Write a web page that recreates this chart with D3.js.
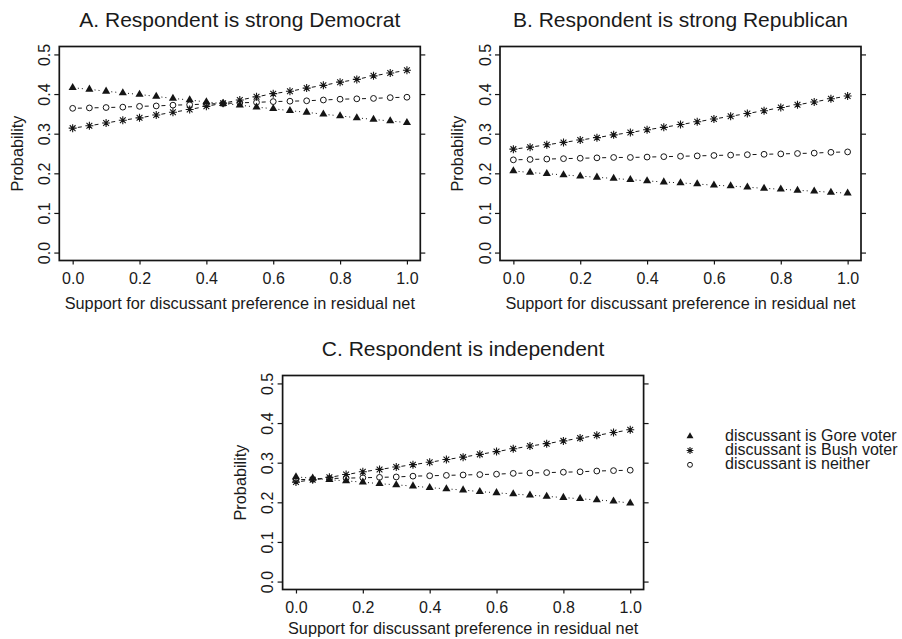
<!DOCTYPE html>
<html>
<head>
<meta charset="utf-8">
<script src="https://cdn.jsdelivr.net/npm/d3@7"></script>
<style>
  html, body { margin: 0; padding: 0; background: #fff; }
  svg { display: block; }
  text { font-family: "Liberation Sans", Arial, Helvetica, sans-serif; fill: #1a1a1a; }
</style>
</head>
<body>
<svg id="chart" width="902" height="639"></svg>
<script>
// Support for the discussant's preference in the residual network
const support = [0, 0.05, 0.1, 0.15, 0.2, 0.25, 0.3, 0.35, 0.4, 0.45, 0.5,
                 0.55, 0.6, 0.65, 0.7, 0.75, 0.8, 0.85, 0.9, 0.95, 1.0];

// A. Respondent is strong Democrat
const demGore    = [0.416, 0.412, 0.407, 0.403, 0.399, 0.394, 0.389, 0.385, 0.380, 0.376, 0.372,
                    0.367, 0.363, 0.358, 0.354, 0.349, 0.345, 0.340, 0.336, 0.332, 0.328];
const demBush    = [0.314, 0.320, 0.327, 0.334, 0.340, 0.347, 0.354, 0.361, 0.369, 0.377, 0.385,
                    0.393, 0.401, 0.407, 0.415, 0.422, 0.430, 0.437, 0.446, 0.453, 0.460];
const demNeither = [0.364, 0.365, 0.366, 0.367, 0.369, 0.370, 0.372, 0.373, 0.375, 0.376, 0.378,
                    0.379, 0.381, 0.382, 0.383, 0.385, 0.387, 0.388, 0.389, 0.391, 0.392];

// B. Respondent is strong Republican
const repGore    = [0.206, 0.202, 0.199, 0.196, 0.193, 0.190, 0.187, 0.184, 0.181, 0.178, 0.176,
                    0.173, 0.170, 0.168, 0.165, 0.162, 0.160, 0.157, 0.155, 0.152, 0.150];
const repBush    = [0.261, 0.266, 0.272, 0.278, 0.284, 0.290, 0.297, 0.303, 0.310, 0.316, 0.323,
                    0.330, 0.337, 0.344, 0.351, 0.358, 0.366, 0.373, 0.380, 0.388, 0.395];
const repNeither = [0.234, 0.235, 0.236, 0.237, 0.238, 0.239, 0.240, 0.240, 0.241, 0.242, 0.243,
                    0.244, 0.245, 0.246, 0.247, 0.248, 0.249, 0.250, 0.251, 0.253, 0.254];

// C. Respondent is independent
const indGore    = [0.264, 0.261, 0.257, 0.254, 0.251, 0.247, 0.244, 0.241, 0.237, 0.234, 0.231,
                    0.227, 0.224, 0.221, 0.218, 0.215, 0.212, 0.209, 0.206, 0.203, 0.198];
const indBush    = [0.251, 0.257, 0.263, 0.270, 0.277, 0.283, 0.289, 0.295, 0.301, 0.308, 0.314,
                    0.321, 0.328, 0.335, 0.342, 0.348, 0.355, 0.362, 0.369, 0.376, 0.383];
const indNeither = [0.257, 0.258, 0.260, 0.261, 0.262, 0.263, 0.264, 0.266, 0.267, 0.268, 0.269,
                    0.270, 0.271, 0.273, 0.274, 0.275, 0.276, 0.277, 0.279, 0.280, 0.281];

const panelTitles = ["A. Respondent is strong Democrat",
                     "B. Respondent is strong Republican",
                     "C. Respondent is independent"];
const seriesLabels = ["discussant is Gore voter", "discussant is Bush voter", "discussant is neither"];
const xTicks = [0, 0.2, 0.4, 0.6, 0.8, 1.0];
const yTicks = [0, 0.1, 0.2, 0.3, 0.4, 0.5];
const xTitle = "Support for discussant preference in residual net";
const yTitle = "Probability";

const ink = "#151515";
const svg = d3.select("#chart");

// marker shapes: filled triangle, eight-spoke asterisk, open circle
function drawMarker(g, kind, cx, cy, s) {
  if (kind === "tri") {
    const r = 4.7 * s;
    g.append("path")
      .attr("d", `M${cx},${cy - r}L${cx + r * 0.866},${cy + r / 2}L${cx - r * 0.866},${cy + r / 2}Z`)
      .attr("fill", ink);
  } else if (kind === "star") {
    const a = 4.0 * s, d = a * 0.72;
    g.append("path")
      .attr("d", `M${cx - a},${cy}H${cx + a}M${cx},${cy - a}V${cy + a}` +
                 `M${cx - d},${cy - d}L${cx + d},${cy + d}M${cx - d},${cy + d}L${cx + d},${cy - d}`)
      .attr("stroke", ink).attr("stroke-width", 1.1).attr("fill", "none");
  } else {
    g.append("circle").attr("cx", cx).attr("cy", cy).attr("r", 2.9 * s)
      .attr("fill", "none").attr("stroke", ink).attr("stroke-width", 1);
  }
}

const seriesStyle = [
  { kind: "tri",  dash: "1,3" },
  { kind: "star", dash: "4,4" },
  { kind: "circ", dash: "4,4" }
];

const panels = [
  { title: panelTitles[0], series: [demGore, demBush, demNeither], box: [59.3, 420.3, 46.5, 260.5], titleY: 26.7, xTitleY: 309 },
  { title: panelTitles[1], series: [repGore, repBush, repNeither], box: [500, 861, 46.5, 260.5], titleY: 26.7, xTitleY: 309 },
  { title: panelTitles[2], series: [indGore, indBush, indNeither], box: [282.6, 643.6, 375.5, 589.5], titleY: 356, xTitleY: 634 }
];

panels.forEach(p => {
  const [L, R, T, B] = p.box;
  const x = d3.scaleLinear().domain([-0.04, 1.04]).range([L, R]);
  const y = d3.scaleLinear().domain([-0.02, 0.52]).range([B, T]);
  const g = svg.append("g");

  // bottom axis
  const ax = g.append("g").attr("transform", `translate(0,${B})`)
    .call(d3.axisBottom(x).tickValues(xTicks).tickFormat(d3.format(".1f"))
      .tickSize(4).tickSizeOuter(0).tickPadding(8.6));
  ax.select(".domain").remove();
  ax.selectAll("line").attr("stroke", ink).attr("stroke-width", 1.2);
  ax.selectAll("text").attr("font-size", 16).attr("fill", "#1a1a1a")
    .attr("font-family", "Liberation Sans, Arial, sans-serif");

  // left axis with rotated labels
  const ay = g.append("g").attr("transform", `translate(${L},0)`)
    .call(d3.axisLeft(y).tickValues(yTicks).tickFormat(d3.format(".1f")).tickSize(5).tickSizeOuter(0));
  ay.select(".domain").remove();
  ay.selectAll("line").attr("stroke", ink).attr("stroke-width", 1.2);
  ay.selectAll("text")
    .attr("x", null).attr("dy", null).attr("y", 0)
    .attr("transform", "translate(-9.3,0) rotate(-90)")
    .attr("text-anchor", "middle")
    .attr("font-size", 16).attr("fill", "#1a1a1a")
    .attr("font-family", "Liberation Sans, Arial, sans-serif");

  // right axis, ticks only
  const ar = g.append("g").attr("transform", `translate(${R},0)`)
    .call(d3.axisRight(y).tickValues(yTicks).tickFormat("").tickSize(5).tickSizeOuter(0));
  ar.select(".domain").remove();
  ar.selectAll("line").attr("stroke", ink).attr("stroke-width", 1.2);

  // frame
  g.append("rect").attr("x", L).attr("y", T).attr("width", R - L).attr("height", B - T)
    .attr("fill", "none").attr("stroke", ink).attr("stroke-width", 1.7);

  // titles
  g.append("text").attr("x", (L + R) / 2).attr("y", p.titleY).attr("text-anchor", "middle")
    .attr("font-size", 21).text(p.title);
  g.append("text").attr("x", (L + R) / 2).attr("y", p.xTitleY).attr("text-anchor", "middle")
    .attr("font-size", 16.3).text(xTitle);
  g.append("text").attr("transform", `translate(${L - 36.6},${(T + B) / 2}) rotate(-90)`)
    .attr("text-anchor", "middle").attr("font-size", 16.3).text(yTitle);

  // series: segments broken around each point, then the markers
  p.series.forEach((vals, si) => {
    const st = seriesStyle[si];
    const pts = support.map((s, i) => [x(s), y(vals[i])]);
    const gs = g.append("g");
    const gap = 5.2;
    for (let i = 0; i < pts.length - 1; i++) {
      const [x1, y1] = pts[i], [x2, y2] = pts[i + 1];
      const len = Math.hypot(x2 - x1, y2 - y1);
      if (len <= 2 * gap) continue;
      const ux = (x2 - x1) / len, uy = (y2 - y1) / len;
      gs.append("line")
        .attr("x1", x1 + ux * gap).attr("y1", y1 + uy * gap)
        .attr("x2", x2 - ux * gap).attr("y2", y2 - uy * gap)
        .attr("stroke", ink).attr("stroke-width", 1)
        .attr("stroke-dasharray", st.dash);
    }
    pts.forEach(([px, py]) => drawMarker(gs, st.kind, px, py, 1));
  });
});

// legend
const legendRows = [436.2, 450.5, 464.8];
seriesLabels.forEach((lab, i) => {
  drawMarker(svg, seriesStyle[i].kind, 690, legendRows[i], 0.85);
  svg.append("text").attr("x", 725).attr("y", legendRows[i] + 4.5)
    .attr("font-size", 16).text(lab);
});
</script>
</body>
</html>
